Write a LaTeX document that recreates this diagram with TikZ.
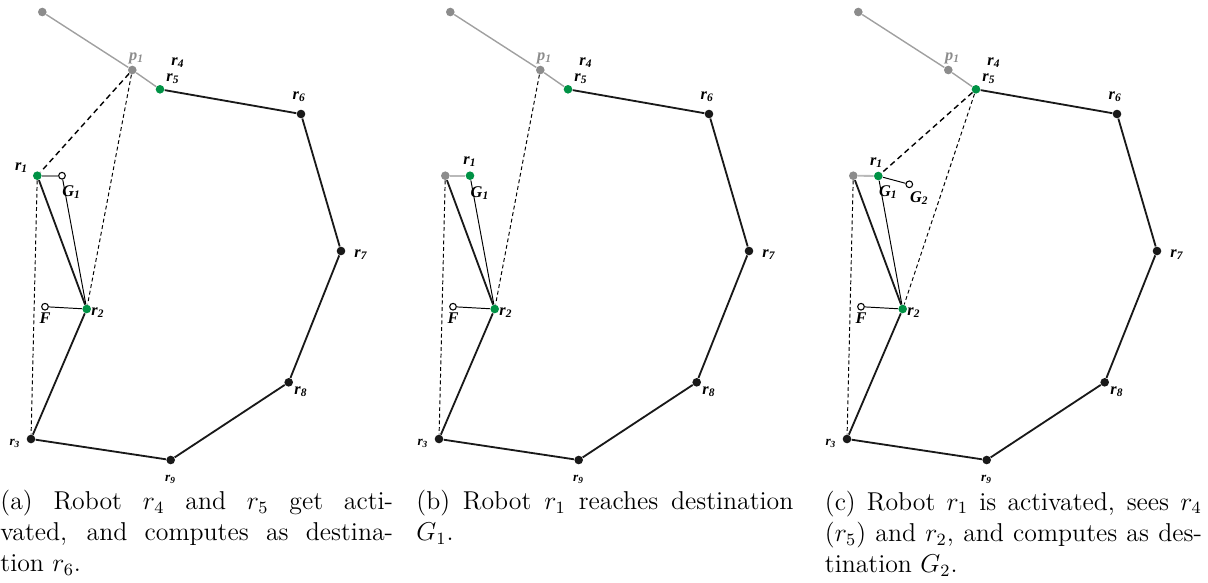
\documentclass[tikz,border=0pt]{standalone}
\usepackage{fontspec}
\newfontfamily\lblfont{Liberation Serif}
\usetikzlibrary{positioning}
\pgfdeclarelayer{bg}
\pgfsetlayers{bg,main}
\definecolor{dotgreen}{RGB}{0,146,69}
\definecolor{dotgray}{RGB}{140,140,140}
\definecolor{linegray}{RGB}{160,160,160}
\definecolor{movegray}{RGB}{185,185,185}
\definecolor{dotblack}{RGB}{25,25,25}
\newcommand\rl[1]{r\textsubscript{#1}}
\tikzset{
  x=0.465pt, y=-0.465pt,
  robot/.style={circle, fill=dotblack, inner sep=0pt, minimum size=4pt},
  grobot/.style={robot, fill=dotgreen},
  grayrobot/.style={robot, fill=dotgray},
  target/.style={circle, draw=black, fill=white, line width=0.5pt, inner sep=0pt, minimum size=3.1pt},
  edge/.style={line width=0.85pt, draw=dotblack},
  thinedge/.style={line width=0.45pt, draw=black},
  graypath/.style={line width=0.65pt, draw=linegray},
  plannedpath/.style={line width=0.85pt, draw=dotgray},
  movepath/.style={line width=0.85pt, draw=movegray},
  sight/.style={line width=0.65pt, dash pattern=on 2.6pt off 1.8pt},
  sightthin/.style={line width=0.45pt, dash pattern=on 1.8pt off 1.3pt},
  lbl/.style={font=\lblfont\bfseries\itshape\fontsize{7.6}{8.5}\selectfont, inner sep=0pt},
  lblsmall/.style={font=\lblfont\bfseries\itshape\fontsize{6.2}{7}\selectfont, inner sep=0pt},
  plbl/.style={lbl, text=dotgray},
  caption/.style={anchor=base west, inner sep=0pt, font=\fontsize{12}{14.5}\selectfont}
}
\newcommand\panelbase[1]{%
  \node[grayrobot] (#1top) at (42.3,12) {};
  \node[grayrobot] (#1p) at (132.3,70) {};
  \node[grobot] (#1r5) at (160,89.3) {};
  \node[robot] (#1r6) at (301,114) {};
  \node[robot] (#1r7) at (341,251) {};
  \node[robot] (#1r8) at (288.7,382.3) {};
  \node[robot] (#1r9) at (170.7,460) {};
  \node[robot] (#1r3) at (31,439) {};
  \node[grobot] (#1r2) at (86.7,309) {};
  \node[target] (#1F) at (45,306.7) {};
  \node[plbl] (#1lp) at (136.7,58) {p\textsubscript{1}};
  \node[lbl] (#1lr4) at (178,63) {\rl{4}};
  \node[lbl] (#1lr5) at (173,79) {\rl{5}};
  \node[lbl] (#1lr6) at (299.3,96.7) {\rl{6}};
  \node[lbl] (#1lr7) at (361,255) {\rl{7}};
  \node[lbl] (#1lr8) at (301,391.7) {\rl{8}};
  \node[lblsmall] (#1lr9) at (170.7,479) {\rl{9}};
  \node[lblsmall] (#1lr3) at (15,443) {\rl{3}};
  \node[lbl] (#1lr2) at (98,313) {\rl{2}};
  \node[lbl] (#1lF) at (45,317.7) {F};
  \begin{pgfonlayer}{bg}
    \draw[graypath] (#1top) -- (#1p) -- (#1r5);
    \draw[edge] (#1r5) -- (#1r6) -- (#1r7) -- (#1r8) -- (#1r9) -- (#1r3) -- (#1r2);
    \draw[thinedge] (#1F) -- (#1r2);
  \end{pgfonlayer}
}
\begin{document}
\begin{tikzpicture}
\useasboundingbox (0,0) rectangle (1208,582);
% ---------- panel (a)
\begin{scope}
  \panelbase{a}
  \node[grobot] (ar1) at (37.3,175.7) {};
  \node[target] (aG1) at (62,175.7) {};
  \node[lbl] (alr1) at (21.7,168) {\rl{1}};
  \node[lbl] (alG1) at (71.7,191.7) {G\textsubscript{1}};
  \begin{pgfonlayer}{bg}
    \draw[plannedpath] (ar1) -- (aG1);
    \draw[edge] (ar1) -- (ar2);
    \draw[thinedge] (aG1) -- (ar2);
    \draw[sight] (ap) -- (ar1);
    \draw[sightthin] (ap) -- (ar2);
    \draw[sightthin] (ar1) -- (ar3);
  \end{pgfonlayer}
\end{scope}
% ---------- panel (b)
\begin{scope}[shift={(408,0)}]
  \panelbase{b}
  \node[grayrobot] (bold) at (37.3,175.7) {};
  \node[grobot] (br1) at (62,175.7) {};
  \node[lbl] (blr1) at (62,161.7) {\rl{1}};
  \node[lbl] (blG1) at (72,192.7) {G\textsubscript{1}};
  \begin{pgfonlayer}{bg}
    \draw[movepath] (bold) -- (br1);
    \draw[edge] (bold) -- (br2);
    \draw[thinedge] (br1) -- (br2);
    \draw[sightthin] (bp) -- (br2);
    \draw[sightthin] (bold) -- (br3);
  \end{pgfonlayer}
\end{scope}
% ---------- panel (c)
\begin{scope}[shift={(816,0)}]
  \panelbase{c}
  \node[grayrobot] (cold) at (37.3,175.7) {};
  \node[grobot] (cr1) at (62.3,176) {};
  \node[target] (cG2) at (93.3,184.3) {};
  \node[lbl] (clr1) at (60.7,163) {\rl{1}};
  \node[lbl] (clG1) at (72.3,191.7) {G\textsubscript{1}};
  \node[lbl] (clG2) at (103.3,197.7) {G\textsubscript{2}};
  \begin{pgfonlayer}{bg}
    \draw[movepath] (cold) -- (cr1);
    \draw[thinedge] (cr1) -- (cG2);
    \draw[edge] (cold) -- (cr2);
    \draw[thinedge] (cr1) -- (cr2);
    \draw[sight] (cr5) -- (cr1);
    \draw[sightthin] (cr5) -- (cr2);
    \draw[sightthin] (cold) -- (cr3);
  \end{pgfonlayer}
\end{scope}
% ---------- captions
\node[caption] (capa) at (0,509.3) {\parbox[t]{182.6pt}{(a) Robot $r_4$ and $r_5$ get acti-\linebreak vated, and computes as destina-\linebreak tion $r_6$.}};
\node[caption] (capb) at (416,509.3) {\parbox[t]{175.3pt}{(b) Robot $r_1$ reaches destination\linebreak $G_1$.}};
\node[caption] (capc) at (824.5,510) {\parbox[t]{175.3pt}{(c) Robot $r_1$ is activated, sees $r_4$\linebreak ($r_5$) and $r_2$, and computes as des-\linebreak tination $G_2$.}};
\end{tikzpicture}
\end{document}
